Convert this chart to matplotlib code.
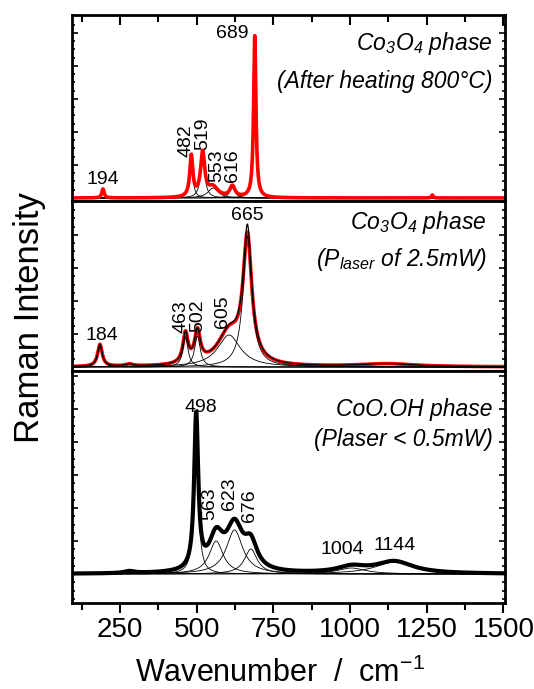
import numpy as np
import matplotlib
matplotlib.use("Agg")
import matplotlib.pyplot as plt
from matplotlib.ticker import MultipleLocator, NullFormatter, FixedLocator

plt.rcParams['font.family'] = ['Liberation Sans', 'DejaVu Sans']
plt.rcParams['mathtext.default'] = 'regular'

# ---- spectral data: fitted bands (centre cm-1, height a.u., FWHM cm-1) ----
# Co3O4 after heating to 800 C
top_centers = [482, 519, 553, 616, 689]
top_heights = [41, 44, 10, 11, 162]
top_fwhm = [12, 16, 40, 20, 9]
top_extra_centers = [194, 1268]
top_extra_heights = [9, 3]
top_extra_fwhm = [9, 6]

# Co3O4 at P_laser = 2.5 mW
mid_centers = [184, 463, 502, 605, 665]
mid_fit_heights = [22, 30, 31, 32, 131]
mid_data_heights = [22, 30, 31, 32, 123]
mid_fwhm = [18, 20, 22, 90, 34]
mid_extra_centers = [280, 1120]
mid_extra_heights = [2, 3]
mid_extra_fwhm = [30, 220]

# CoO.OH at P_laser < 0.5 mW
bot_centers = [498, 563, 623, 676, 1004, 1144]
bot_heights = [154, 33, 44, 25, 6, 12]
bot_fwhm = [16, 55, 65, 50, 110, 150]
bot_extra_centers = [280]
bot_extra_heights = [2]
bot_extra_fwhm = [40]

x_ticks = [250, 500, 750, 1000, 1250, 1500]

wn = np.linspace(93, 1505, 2000)


def lorentz(x, c, h, w):
    return h / (1.0 + ((x - c) / (w / 2.0)) ** 2)


def bands(centers, heights, fwhm):
    return [lorentz(wn, c, h, w) for c, h, w in zip(centers, heights, fwhm)]


fig = plt.figure(figsize=(5.34, 6.89), dpi=100)
W, H = 534, 689
left, right = 72 / W, 505 / W


def panel(top_px, bottom_px):
    return fig.add_axes([left, 1 - bottom_px / H, right - left, (bottom_px - top_px) / H])


ax_top = panel(15, 201)
ax_mid = panel(201, 371)
ax_bot = panel(371, 603)

for ax in (ax_top, ax_mid, ax_bot):
    ax.set_xlim(93, 1505)
    for s in ax.spines.values():
        s.set_linewidth(2.0)
    ax.yaxis.set_major_locator(MultipleLocator(33))
    ax.yaxis.set_minor_locator(MultipleLocator(8.25))
    ax.yaxis.set_major_formatter(NullFormatter())
    ax.tick_params(axis='y', which='both', left=True, right=True, direction='in',
                   labelleft=False, width=1.2)
    ax.tick_params(axis='y', which='major', length=4)
    ax.tick_params(axis='y', which='minor', length=2)
    ax.xaxis.set_major_locator(FixedLocator(x_ticks))
    ax.xaxis.set_minor_locator(MultipleLocator(125))
    ax.tick_params(axis='x', which='both', bottom=False, top=False,
                   labelbottom=False, width=1.5)

# top panel: x ticks pointing inward along the upper edge
ax_top.tick_params(axis='x', which='both', top=True, direction='in')
ax_top.tick_params(axis='x', which='major', length=7)
ax_top.tick_params(axis='x', which='minor', length=5)
# bottom panel: labelled x axis, ticks outward
ax_bot.tick_params(axis='x', which='both', bottom=True, direction='out',
                   labelbottom=True, labelsize=20, pad=3)
ax_bot.tick_params(axis='x', which='major', length=7)
ax_bot.tick_params(axis='x', which='minor', length=5)

lw_comp = 0.6
label_fs = 14
phase_fs = 16.5

# ---- top panel ----
ax_top.set_ylim(-3, 183)
comps = bands(top_centers, top_heights, top_fwhm)
extra = bands(top_extra_centers, top_extra_heights, top_extra_fwhm)
for c in comps:
    ax_top.plot(wn, c, color='black', lw=lw_comp)
ax_top.plot(wn, np.sum(comps, axis=0) + np.sum(extra, axis=0), color='red', lw=2.6)

ax_top.text(615, 165, str(top_centers[4]), fontsize=label_fs, ha='center', va='center')
ax_top.text(194, 18, str(top_extra_centers[0]), fontsize=label_fs, ha='center', va='center')
for c, xl, yl in zip(top_centers[:4], [466, 520, 566, 618], [41, 48, 16, 16]):
    ax_top.text(xl, yl, str(c), fontsize=label_fs, rotation=90, ha='center', va='bottom')
ax_top.text(0.972, 0.849, 'Co$_3$O$_4$ phase', transform=ax_top.transAxes,
            fontsize=phase_fs, style='italic', ha='right', va='center')
ax_top.text(0.972, 0.64, '(After heating 800°C)', transform=ax_top.transAxes,
            fontsize=phase_fs, style='italic', ha='right', va='center')

# ---- middle panel ----
ax_mid.set_ylim(-4, 166)
comps = bands(mid_centers, mid_fit_heights, mid_fwhm)
extra = bands(mid_extra_centers, mid_extra_heights, mid_extra_fwhm)
data = bands(mid_centers, mid_data_heights, mid_fwhm)
ax_mid.plot(wn, np.sum(data, axis=0) + np.sum(extra, axis=0), color='red', lw=2.6)
for c in comps:
    ax_mid.plot(wn, c, color='black', lw=lw_comp)
ax_mid.plot(wn, np.sum(comps, axis=0) + np.sum(extra, axis=0), color='black', lw=0.9)

ax_mid.text(664, 152, str(mid_centers[4]), fontsize=label_fs, ha='center', va='center')
ax_mid.text(191, 32, str(mid_centers[0]), fontsize=label_fs, ha='center', va='center')
for c, xl, yl in zip(mid_centers[1:4], [450, 503, 585], [34, 35, 39]):
    ax_mid.text(xl, yl, str(c), fontsize=label_fs, rotation=90, ha='center', va='bottom')
ax_mid.text(0.958, 0.876, 'Co$_3$O$_4$ phase', transform=ax_mid.transAxes,
            fontsize=phase_fs, style='italic', ha='right', va='center')
ax_mid.text(0.958, 0.653, '(P$_{laser}$ of 2.5mW)', transform=ax_mid.transAxes,
            fontsize=phase_fs, style='italic', ha='right', va='center')

# ---- bottom panel ----
ax_bot.set_ylim(-29, 203)
comps = bands(bot_centers, bot_heights, bot_fwhm)
extra = bands(bot_extra_centers, bot_extra_heights, bot_extra_fwhm)
for c in comps:
    ax_bot.plot(wn, c, color='black', lw=lw_comp)
ax_bot.plot(wn, np.sum(comps, axis=0) + np.sum(extra, axis=0), color='black', lw=3.0)

ax_bot.text(514, 167, str(bot_centers[0]), fontsize=label_fs, ha='center', va='center')
for c, xl, yl in zip(bot_centers[1:4], [543, 608, 673], [54, 64, 52]):
    ax_bot.text(xl, yl, str(c), fontsize=label_fs, rotation=90, ha='center', va='bottom')
ax_bot.text(975, 24, str(bot_centers[4]), fontsize=label_fs, ha='center', va='center')
ax_bot.text(1145, 29, str(bot_centers[5]), fontsize=label_fs, ha='center', va='center')
ax_bot.text(0.972, 0.832, 'CoO.OH phase', transform=ax_bot.transAxes,
            fontsize=phase_fs, style='italic', ha='right', va='center')
ax_bot.text(0.972, 0.703, '(Plaser < 0.5mW)', transform=ax_bot.transAxes,
            fontsize=phase_fs, style='italic', ha='right', va='center')

fig.text(30 / W, 1 - 318 / H, 'Raman Intensity', rotation=90, fontsize=25,
         ha='center', va='center')
fig.text(280 / W, 1 - 673 / H, 'Wavenumber  /  cm$^{-1}$', fontsize=22,
         ha='center', va='center')

fig.savefig('out.png', dpi=100)
